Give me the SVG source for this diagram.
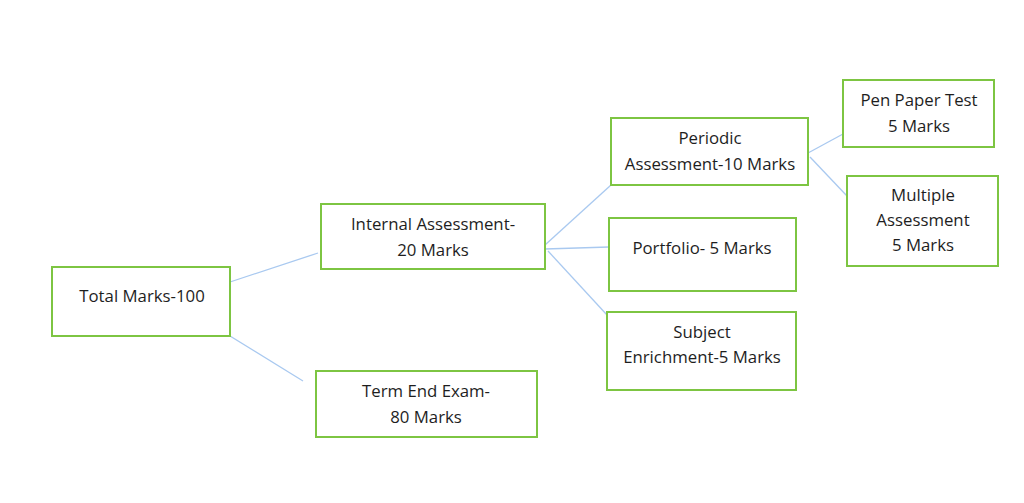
<svg xmlns="http://www.w3.org/2000/svg" width="1024" height="503" viewBox="0 0 1024 503">
<style>
.box{fill:#fff;stroke:#7dc542;stroke-width:2}
.t{font-family:"Open Sans","Noto Sans",sans-serif;font-size:16.8px;fill:#1e1e1e;text-anchor:middle}
.c{stroke:#a9c9f0;stroke-width:1.3;fill:none}
</style>
<rect width="1024" height="503" fill="#fff"/>
<g id="connectors">
<line class="c" x1="230" y1="282" x2="318" y2="253"/>
<line class="c" x1="230" y1="336" x2="303" y2="381"/>
<line class="c" x1="545" y1="245" x2="611" y2="185"/>
<line class="c" x1="545" y1="249" x2="609" y2="247"/>
<line class="c" x1="548" y1="251" x2="607" y2="315"/>
<line class="c" x1="808" y1="153" x2="843" y2="134"/>
<line class="c" x1="810" y1="157" x2="847" y2="196"/>
</g>
<g id="total"><rect class="box" x="52" y="267" width="178" height="69"/><text class="t" x="142" y="302">Total Marks-100</text></g>
<g id="internal"><rect class="box" x="321" y="204" width="224" height="65"/><text class="t" x="433" y="230">Internal Assessment-</text><text class="t" x="433" y="256">20 Marks</text></g>
<g id="term"><rect class="box" x="316" y="371" width="221" height="66"/><text class="t" x="426" y="397">Term End Exam-</text><text class="t" x="426" y="423">80 Marks</text></g>
<g id="periodic"><rect class="box" x="611" y="118" width="197" height="67"/><text class="t" x="710" y="144">Periodic</text><text class="t" x="710" y="170">Assessment-10 Marks</text></g>
<g id="portfolio"><rect class="box" x="609" y="218" width="187" height="73"/><text class="t" x="702" y="254">Portfolio- 5 Marks</text></g>
<g id="subject"><rect class="box" x="607" y="312" width="189" height="78"/><text class="t" x="702" y="338">Subject</text><text class="t" x="702" y="363">Enrichment-5 Marks</text></g>
<g id="pen"><rect class="box" x="843" y="80" width="151" height="67"/><text class="t" x="919" y="106">Pen Paper Test</text><text class="t" x="919" y="132">5 Marks</text></g>
<g id="multiple"><rect class="box" x="847" y="176" width="151" height="90"/><text class="t" x="923" y="201">Multiple</text><text class="t" x="923" y="226">Assessment</text><text class="t" x="923" y="251">5 Marks</text></g>
</svg>
